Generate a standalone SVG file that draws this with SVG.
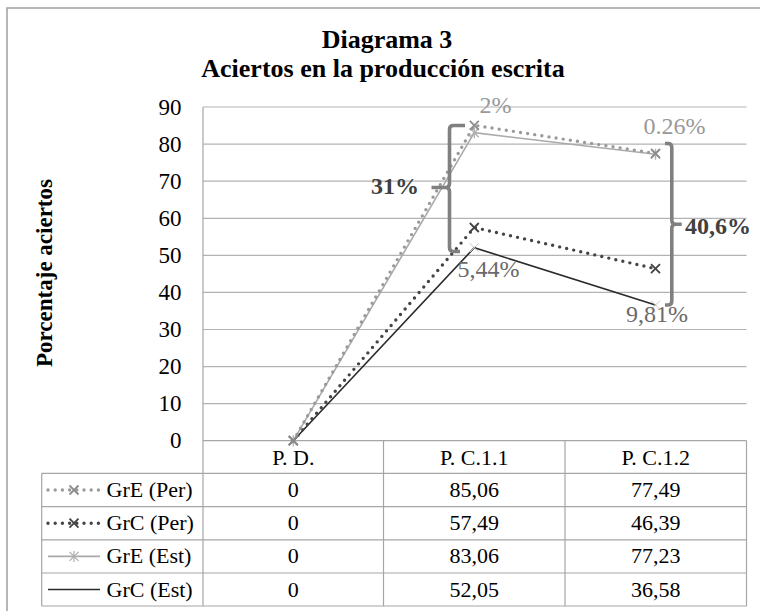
<svg xmlns="http://www.w3.org/2000/svg" xmlns:xlink="http://www.w3.org/1999/xlink" width="760" height="611" viewBox="0 0 760 611">
<style>
text{font-family:"Liberation Serif","Times New Roman",serif;}
.ttl{font-size:26px;font-weight:bold;fill:#000;text-anchor:middle;}
.tick{font-size:23px;fill:#000;text-anchor:end;}
.cell{font-size:22px;fill:#000;text-anchor:middle;}
.leg{font-size:22px;fill:#000;}
.grid{stroke:#b3b3b3;stroke-width:1.2;fill:none;}
.tbl{stroke:#a6a6a6;stroke-width:1.2;fill:none;}
.eper{stroke:#9a9a9a;stroke-width:3.4;stroke-dasharray:0 7.2;stroke-linecap:round;fill:none;}
.cper{stroke:#444;stroke-width:3.4;stroke-dasharray:0 7.2;stroke-linecap:round;fill:none;}
.eest{stroke:#aaa;stroke-width:1.6;fill:none;}
.cest{stroke:#2a2a2a;stroke-width:1.6;fill:none;}
.mke{stroke:#8c8c8c;stroke-width:1.8;fill:none;}
.mkc{stroke:#444;stroke-width:1.8;fill:none;}
.mka{stroke:#b0b0b0;stroke-width:1.3;fill:none;}
.mkf{stroke:#c8c8c8;stroke-width:1;fill:none;}
.brk{stroke:#808080;stroke-width:3.6;fill:none;stroke-linejoin:round;stroke-linecap:butt;}
.lblg{font-size:24px;fill:#999;}
.lbld{font-size:24px;fill:#6a6a6a;}
.lblb{font-size:24px;font-weight:bold;fill:#404040;}
</style>
<defs>
<path id="xm" d="M-4.5,-4.5L4.5,4.5M-4.5,4.5L4.5,-4.5"/>
<path id="ast" d="M-4.5,-4.5L4.5,4.5M-4.5,4.5L4.5,-4.5M0,-5.5V5.5"/>
</defs>
<rect x="0" y="0" width="760" height="611" fill="#fff"/>
<rect x="7" y="8" width="770" height="620" fill="none" stroke="#a0a0a0" stroke-width="1.5"/>

<g id="title">
<text class="ttl" x="387" y="48">Diagrama 3</text>
<text class="ttl" x="383" y="76.5">Aciertos en la producción escrita</text>
</g>

<g id="axis-title">
<text x="0" y="0" transform="translate(52,273) rotate(-90)" style="font-size:23px;font-weight:bold;text-anchor:middle;fill:#000">Porcentaje aciertos</text>
</g>

<g id="grid">
<line class="grid" x1="203" y1="107" x2="746.5" y2="107"/>
<line class="grid" x1="203" y1="144.1" x2="746.5" y2="144.1"/>
<line class="grid" x1="203" y1="181.2" x2="746.5" y2="181.2"/>
<line class="grid" x1="203" y1="218.3" x2="746.5" y2="218.3"/>
<line class="grid" x1="203" y1="255.4" x2="746.5" y2="255.4"/>
<line class="grid" x1="203" y1="292.4" x2="746.5" y2="292.4"/>
<line class="grid" x1="203" y1="329.5" x2="746.5" y2="329.5"/>
<line class="grid" x1="203" y1="366.6" x2="746.5" y2="366.6"/>
<line class="grid" x1="203" y1="403.6" x2="746.5" y2="403.6"/>
<line class="tbl" x1="203" y1="440.7" x2="746.5" y2="440.7"/>
<line class="tbl" x1="203" y1="107" x2="203" y2="606"/>
</g>

<g id="ticks">
<text class="tick" x="181.5" y="114.5">90</text>
<text class="tick" x="181.5" y="151.6">80</text>
<text class="tick" x="181.5" y="188.7">70</text>
<text class="tick" x="181.5" y="225.8">60</text>
<text class="tick" x="181.5" y="262.9">50</text>
<text class="tick" x="181.5" y="299.9">40</text>
<text class="tick" x="181.5" y="337">30</text>
<text class="tick" x="181.5" y="374.1">20</text>
<text class="tick" x="181.5" y="411.1">10</text>
<text class="tick" x="181.5" y="448.2">0</text>
</g>

<g id="connectors">
<polyline id="s-cest" class="cest" points="293.3,440.7 474.3,247.7 655.5,305.1"/>
<polyline id="s-eest" class="eest" points="293.3,440.7 474.3,132.7 655.5,154.3"/>
<polyline id="s-cper" class="cper" points="293.3,440.7 474.3,227.5 655.5,268.7"/>
<polyline id="s-eper" class="eper" points="293.3,440.7 474.3,125.3 655.5,153.4"/>
</g>

<g id="markers">
<use href="#xm" class="mkf" x="474.3" y="247.7"/>
<use href="#xm" class="mkf" x="655.5" y="305.1"/>
<use href="#ast" class="mka" x="293.3" y="440.7"/>
<use href="#ast" class="mka" x="474.3" y="132.7"/>
<use href="#ast" class="mka" x="655.5" y="154.3"/>
<use href="#xm" class="mkc" x="293.3" y="440.7"/>
<use href="#xm" class="mkc" x="474.3" y="227.5"/>
<use href="#xm" class="mkc" x="655.5" y="268.7"/>
<use href="#xm" class="mke" x="293.3" y="440.7"/>
<use href="#xm" class="mke" x="474.3" y="125.3"/>
<use href="#xm" class="mke" x="655.5" y="153.4"/>
</g>

<g id="bracket-left">
<path class="brk" d="M465,125.5 H453.5 Q449.5,125.5 449.5,129.5 V183.5 Q449.5,187.5 445.5,187.5 H431.5 M445.5,187.5 Q449.5,187.5 449.5,191.5 V247.5 Q449.5,251.5 453.5,251.5 H460"/>
</g>
<g id="bracket-right">
<path class="brk" d="M665,143.5 H668 Q671.8,143.5 671.8,147.5 V220.3 Q671.8,224.3 675.8,224.3 H681.7 M675.8,224.3 Q671.8,224.3 671.8,228.3 V301 Q671.8,305 668,305 H665"/>
</g>

<g id="labels">
<text class="lblg" x="479.5" y="112.5">2%</text>
<text class="lblg" x="643.5" y="133.5">0.26%</text>
<text class="lbld" x="457.5" y="277">5,44%</text>
<text class="lbld" x="626" y="322">9,81%</text>
<text class="lblb" x="371" y="194">31%</text>
<text class="lblb" x="685" y="233.5">40,6%</text>
</g>

<g id="table">
<line class="tbl" x1="41.7" y1="473.3" x2="746.5" y2="473.3"/>
<line class="tbl" x1="41.7" y1="506.6" x2="746.5" y2="506.6"/>
<line class="tbl" x1="41.7" y1="539.8" x2="746.5" y2="539.8"/>
<line class="tbl" x1="41.7" y1="573" x2="746.5" y2="573"/>
<line class="tbl" x1="41.7" y1="606" x2="746.5" y2="606"/>
<line class="tbl" x1="41.7" y1="473.3" x2="41.7" y2="606"/>
<line class="tbl" x1="383.5" y1="440.7" x2="383.5" y2="606"/>
<line class="tbl" x1="565" y1="440.7" x2="565" y2="606"/>
<line class="tbl" x1="746.5" y1="440.7" x2="746.5" y2="606"/>
<text class="cell" x="293.3" y="464.5">P. D.</text>
<text class="cell" x="474.3" y="464.5">P. C.1.1</text>
<text class="cell" x="655.8" y="464.5">P. C.1.2</text>
</g>

<g id="row-gre-per">
<line class="eper" x1="48" y1="490" x2="100" y2="490"/>
<use href="#xm" class="mke" x="74" y="490"/>
<text class="leg" x="106.5" y="497">GrE (Per)</text>
<text class="cell" x="293.3" y="497">0</text>
<text class="cell" x="474.3" y="497">85,06</text>
<text class="cell" x="655.8" y="497">77,49</text>
</g>
<g id="row-grc-per">
<line class="cper" x1="48" y1="523.2" x2="100" y2="523.2"/>
<use href="#xm" class="mkc" x="74" y="523.2"/>
<text class="leg" x="106.5" y="530.2">GrC (Per)</text>
<text class="cell" x="293.3" y="530.2">0</text>
<text class="cell" x="474.3" y="530.2">57,49</text>
<text class="cell" x="655.8" y="530.2">46,39</text>
</g>
<g id="row-gre-est">
<line class="eest" x1="48" y1="556.4" x2="100" y2="556.4"/>
<use href="#ast" class="mka" x="74" y="556.4"/>
<text class="leg" x="106.5" y="563.4">GrE (Est)</text>
<text class="cell" x="293.3" y="563.4">0</text>
<text class="cell" x="474.3" y="563.4">83,06</text>
<text class="cell" x="655.8" y="563.4">77,23</text>
</g>
<g id="row-grc-est">
<line class="cest" x1="48" y1="589.5" x2="100" y2="589.5"/>
<text class="leg" x="106.5" y="596.5">GrC (Est)</text>
<text class="cell" x="293.3" y="596.5">0</text>
<text class="cell" x="474.3" y="596.5">52,05</text>
<text class="cell" x="655.8" y="596.5">36,58</text>
</g>
</svg>
